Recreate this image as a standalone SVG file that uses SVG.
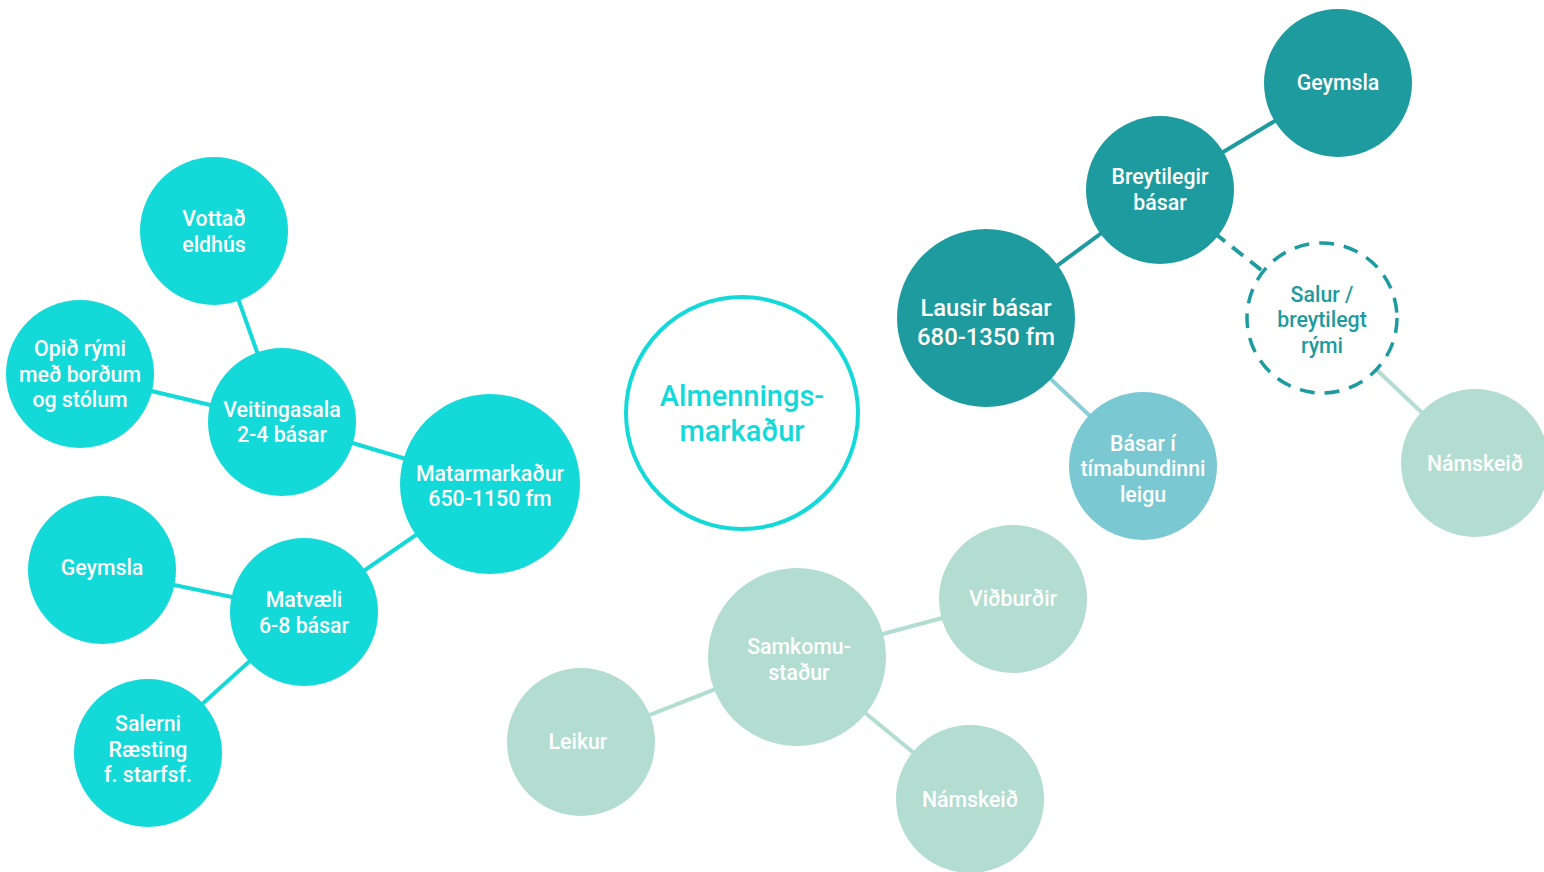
<svg xmlns="http://www.w3.org/2000/svg" width="1544" height="872" viewBox="0 0 1544 872">
<style>
text{font-family:Roboto,"Liberation Sans",sans-serif;font-weight:500;text-anchor:middle;dominant-baseline:central;fill:#fff;font-size:21.3px}
.cy{fill:#13d9d9}
.tl{fill:#1e9b9e}
.lb{fill:#7ac8d2}
.lg{fill:#b2ddd0}
.lc{stroke:#13d9d9;stroke-width:4;fill:none}
.lt{stroke:#1e9b9e;stroke-width:4;fill:none}
.lbl{stroke:#8ccdd6;stroke-width:4;fill:none}
.lgl{stroke:#b2ddd0;stroke-width:4;fill:none}
.big{font-size:23.8px}
.ctr{font-size:29px;fill:#13d9d9}
.dk{fill:#1e9b9e}
</style>
<rect width="1544" height="872" fill="#fff"/>
<g id="connectors">
<line class="lc" x1="214" y1="231" x2="282" y2="422"/>
<line class="lc" x1="80" y1="374" x2="282" y2="422"/>
<line class="lc" x1="282" y1="422" x2="490" y2="484"/>
<line class="lc" x1="490" y1="484" x2="304" y2="612"/>
<line class="lc" x1="102" y1="570" x2="304" y2="612"/>
<line class="lc" x1="304" y1="612" x2="148" y2="753"/>
<line class="lt" x1="986" y1="318" x2="1160" y2="190"/>
<line class="lt" x1="1160" y1="190" x2="1338" y2="83"/>
<line class="lt" x1="1160" y1="190" x2="1322" y2="318" stroke-dasharray="14 9"/>
<line class="lbl" x1="986" y1="318" x2="1143" y2="466"/>
<line class="lgl" x1="1322" y1="318" x2="1475" y2="463"/>
<line class="lgl" x1="797" y1="657" x2="1013" y2="599"/>
<line class="lgl" x1="797" y1="657" x2="581" y2="742"/>
<line class="lgl" x1="797" y1="657" x2="970" y2="799"/>
</g>
<g id="center">
<circle cx="742" cy="413" r="116" fill="#fff" stroke="#13d9d9" stroke-width="4"/>
<text class="ctr" x="742" y="396">Almennings-</text>
<text class="ctr" x="742" y="431">markaður</text>
</g>
<g id="vottad"><circle class="cy" cx="214" cy="231" r="74"/><text x="214" y="218">Vottað</text><text x="214" y="244">eldhús</text></g>
<g id="opid"><circle class="cy" cx="80" cy="374" r="74"/><text x="80" y="348">Opið rými</text><text x="80" y="374">með borðum</text><text x="80" y="399">og stólum</text></g>
<g id="veitingasala"><circle class="cy" cx="282" cy="422" r="74"/><text x="282" y="409">Veitingasala</text><text x="282" y="434">2-4 básar</text></g>
<g id="matarmarkadur"><circle class="cy" cx="490" cy="484" r="90"/><text x="490" y="473">Matarmarkaður</text><text x="490" y="498">650-1150 fm</text></g>
<g id="geymsla-l"><circle class="cy" cx="102" cy="570" r="74"/><text x="102" y="567">Geymsla</text></g>
<g id="matvaeli"><circle class="cy" cx="304" cy="612" r="74"/><text x="304" y="599">Matvæli</text><text x="304" y="625">6-8 básar</text></g>
<g id="salerni"><circle class="cy" cx="148" cy="753" r="74"/><text x="148" y="723">Salerni</text><text x="148" y="749">Ræsting</text><text x="148" y="774">f. starfsf.</text></g>
<g id="lausir"><circle class="tl" cx="986" cy="318" r="89"/><text class="big" x="986" y="308">Lausir básar</text><text class="big" x="986" y="337">680-1350 fm</text></g>
<g id="breytilegir"><circle class="tl" cx="1160" cy="190" r="74"/><text x="1160" y="176">Breytilegir</text><text x="1160" y="202">básar</text></g>
<g id="geymsla-r"><circle class="tl" cx="1338" cy="83" r="74"/><text x="1338" y="82">Geymsla</text></g>
<g id="salur"><circle cx="1322" cy="318" r="75" fill="#fff" stroke="#1e9b9e" stroke-width="3.5" stroke-dasharray="15 10"/><text class="dk" x="1322" y="294">Salur /</text><text class="dk" x="1322" y="319">breytilegt</text><text class="dk" x="1322" y="345">rými</text></g>
<g id="basar-leigu"><circle class="lb" cx="1143" cy="466" r="74"/><text x="1143" y="443">Básar í</text><text x="1143" y="468">tímabundinni</text><text x="1143" y="494">leigu</text></g>
<g id="namskeid-r"><circle class="lg" cx="1475" cy="463" r="74"/><text x="1475" y="463">Námskeið</text></g>
<g id="samkomustadur"><circle class="lg" cx="797" cy="657" r="89"/><text x="799" y="646">Samkomu-</text><text x="799" y="672">staður</text></g>
<g id="vidburdir"><circle class="lg" cx="1013" cy="599" r="74"/><text x="1013" y="598">Viðburðir</text></g>
<g id="leikur"><circle class="lg" cx="581" cy="742" r="74"/><text x="578" y="741">Leikur</text></g>
<g id="namskeid-b"><circle class="lg" cx="970" cy="799" r="74"/><text x="970" y="799">Námskeið</text></g>
</svg>
